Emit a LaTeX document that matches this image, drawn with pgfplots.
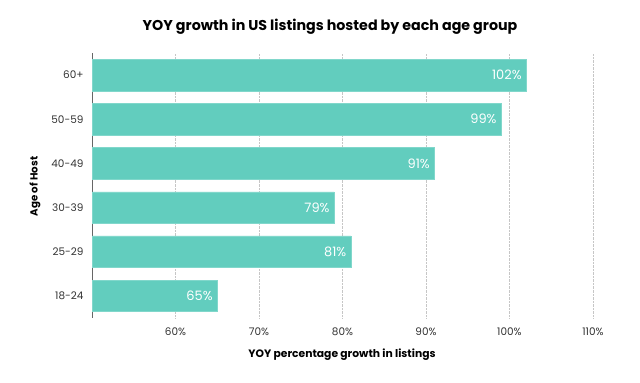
\documentclass[border=0pt]{standalone}
\usepackage{fontspec}
\setmainfont{Poppins}
\usepackage{pgfplots}
\pgfplotsset{compat=1.18}
\definecolor{barc}{HTML}{62CDBE}
\definecolor{tickc}{HTML}{333333}
\begin{document}
\begin{tikzpicture}
\useasboundingbox (0,0) rectangle (640bp,383bp);
\begin{axis}[
  at={(92bp,65bp)}, anchor=south west,
  scale only axis, width=526bp, height=265bp,
  xmin=50, xmax=113, ymin=-0.5, ymax=5.5,
  xbar, bar width=31.5bp,
  axis lines=left,
  x axis line style={draw=none},
  y axis line style={draw=gray!80!black, line width=0.8pt, -},
  major tick length=0pt,
  xtick={60,70,80,90,100,110},
  xticklabel={\pgfmathprintnumber{\tick}\%},
  ytick={0,1,2,3,4,5},
  yticklabels={18-24,25-29,30-39,40-49,50-59,60+},
  xmajorgrids, major grid style={densely dotted, gray!45, line width=0.6pt},
  tick label style={font=\fontsize{10.5}{12}\selectfont, text=tickc},
  xticklabel style={yshift=-6bp},
  yticklabel style={xshift=-5bp},
  /pgf/number format/assume math mode=true,
  nodes near coords={\pgfmathprintnumber{\pgfplotspointmeta}\%},
  every node near coord/.append style={anchor=east, text=white, font=\fontsize{13}{15}\selectfont, xshift=-1bp},
  clip=false,
]
\addplot[fill=barc, draw=barc!80!white, line width=0.5pt] coordinates {
  (65,0) (81,1) (79,2) (91,3) (99,4) (102,5)
};
\end{axis}
\node[font=\bfseries\fontsize{14.3}{16}\selectfont] at (330bp,356bp) {YOY growth in US listings hosted by each age group};
\node[font=\bfseries\fontsize{10.8}{12}\selectfont] at (342bp,28bp) {YOY percentage growth in listings};
\node[font=\bfseries\fontsize{10.3}{12}\selectfont, rotate=90] at (35bp,196.5bp) {Age of Host};
\end{tikzpicture}
\end{document}
